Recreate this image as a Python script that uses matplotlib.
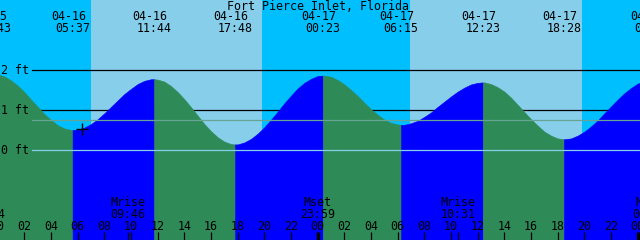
import matplotlib
matplotlib.use("Agg")
from matplotlib import pyplot as plt

# tide events (high / low)
tide_dates = ["04-15", "04-16", "04-16", "04-16", "04-17", "04-17", "04-17", "04-17", "04-18"]
tide_times = ["23:43", "05:37", "11:44", "17:48", "00:23", "06:15", "12:23", "18:28", "01:04"]
tide_heights = [1.90, 0.50, 1.77, 0.14, 1.86, 0.63, 1.69, 0.27, 1.75]

# water level read every half hour, from 04-15 23:00 to 04-18 01:00 (ft)
level_heights = [1.85, 1.89,
                 1.89, 1.84, 1.74, 1.61, 1.45, 1.26, 1.08, 0.90, 0.75, 0.62, 0.54, 0.50,
                 0.51, 0.56, 0.65, 0.77, 0.92, 1.08, 1.24, 1.40, 1.53, 1.65, 1.73, 1.77,
                 1.76, 1.71, 1.60, 1.45, 1.27, 1.07, 0.86, 0.65, 0.47, 0.32, 0.21, 0.15,
                 0.14, 0.19, 0.28, 0.41, 0.57, 0.76, 0.96, 1.17, 1.36, 1.54, 1.68, 1.78,
                 1.85, 1.86, 1.83, 1.75, 1.64, 1.50, 1.35, 1.18, 1.02, 0.88, 0.76, 0.68,
                 0.64, 0.63, 0.67, 0.73, 0.83, 0.94, 1.08, 1.21, 1.34, 1.46, 1.56, 1.64,
                 1.68, 1.69, 1.65, 1.57, 1.46, 1.31, 1.13, 0.95, 0.77, 0.61, 0.46, 0.36,
                 0.29, 0.27, 0.29, 0.36, 0.46, 0.59, 0.74, 0.92, 1.09, 1.26, 1.42, 1.55,
                 1.66, 1.72, 1.75]

# sunrise / sunset
sun_dates = ["04-16", "04-16", "04-17", "04-17"]
sun_times = ["06:59", "19:51", "06:55", "19:50"]

# moon events
moon_kinds = ["Mset", "Mrise", "Mset", "Mrise", "Mset"]
moon_dates = ["04-15", "04-16", "04-16", "04-17", "04-18"]
moon_times = ["23:14", "09:46", "23:59", "10:31", "00:54"]

ft_levels = [0, 1, 2]
mean_level = 0.74
now_hour, now_height = 6.3, 0.525

NIGHT = "#00BFFF"
DAY = "#87CEEB"
RISE = "#0000FF"
FALL = "#2E8B57"


def to_hours(d, t):
    day = int(d.split("-")[1]) - 16
    hh, mm = t.split(":")
    return 24 * day + int(hh) + int(mm) / 60


PX_H = 640 / 48.0      # pixels per hour
PX_FT = 40.0           # pixels per foot
x0 = 2.3 / PX_H        # left edge in hours
y_top = 150 / PX_FT
y_bot = -90 / PX_FT


def ypx(p):
    return (150 - p) / PX_FT


fig = plt.figure(figsize=(6.4, 2.4), dpi=100)
ax = fig.add_axes([0, 0, 1, 1])
ax.set_xlim(x0, x0 + 48)
ax.set_ylim(y_bot, y_top)
ax.axis("off")

font = dict(family="DejaVu Sans Mono", fontsize=8.4, color="black")

# sky
sun = [to_hours(d, t) for d, t in zip(sun_dates, sun_times)]
edges = [-5] + sun + [55]
for i in range(len(edges) - 1):
    ax.axvspan(edges[i], edges[i + 1], color=NIGHT if i % 2 == 0 else DAY, lw=0, zorder=0)

# foot lines behind the water
for lv in ft_levels[1:]:
    ax.axhline(lv, xmin=32 / 640, color="black", lw=0.9, zorder=1)

# water
ev_t = [to_hours(d, t) for d, t in zip(tide_dates, tide_times)]
lv_t = [-1 + 0.5 * i for i in range(len(level_heights))]
pts = sorted(zip(lv_t + ev_t, level_heights + tide_heights))
bounds = [-10] + ev_t + [60]
for lo, hi in zip(bounds[:-1], bounds[1:]):
    seg = [p for p in pts if lo <= p[0] <= hi]
    if len(seg) < 2:
        continue
    ts = [p[0] for p in seg]
    hs = [p[1] for p in seg]
    col = RISE if hs[-1] > hs[0] else FALL
    ax.fill_between(ts, hs, y_bot - 1, facecolor=col, edgecolor=col, lw=0.4, zorder=2)

ax.axhline(ft_levels[0], xmin=32 / 640, color=DAY, lw=0.9, zorder=3)
ax.axhline(mean_level, xmin=32 / 640, color="#66a392", lw=0.9, zorder=3)
ax.plot([now_hour], [now_height], marker="+", ms=8, mew=1.0, color="black", zorder=4)

# foot labels
for lv in ft_levels:
    ax.text(x0 + 1 / PX_H, lv, f"{lv} ft", ha="left", va="center", zorder=5, **font)

# title and tide event labels
ax.text(x0 + 318 / PX_H, ypx(6), "Fort Pierce Inlet, Florida", ha="center", va="center", **font)
for t, d, tm in zip(ev_t, tide_dates, tide_times):
    ax.text(t - 4 / PX_H, ypx(17), d, ha="center", va="center", **font)
    ax.text(t, ypx(29), tm, ha="center", va="center", **font)

# moon labels
moon_t = [to_hours(d, t) for d, t in zip(moon_dates, moon_times)]
for t, k, tm in zip(moon_t, moon_kinds, moon_times):
    ax.text(t, ypx(202), k, ha="center", va="center", **font)
    ax.text(t, ypx(214), tm, ha="center", va="center", **font)

# hour axis
for h in range(0, 50, 2):
    ax.text(h, ypx(226), f"{h % 24:02d}", ha="center", va="center", **font)
    ax.vlines(h, ypx(240), ypx(232), color="black", lw=2.4 if h % 24 == 0 else 0.9, zorder=5)
ax.vlines(moon_t, ypx(240), ypx(232), color="black", lw=0.9, zorder=5)

fig.savefig("out.png", dpi=100)
